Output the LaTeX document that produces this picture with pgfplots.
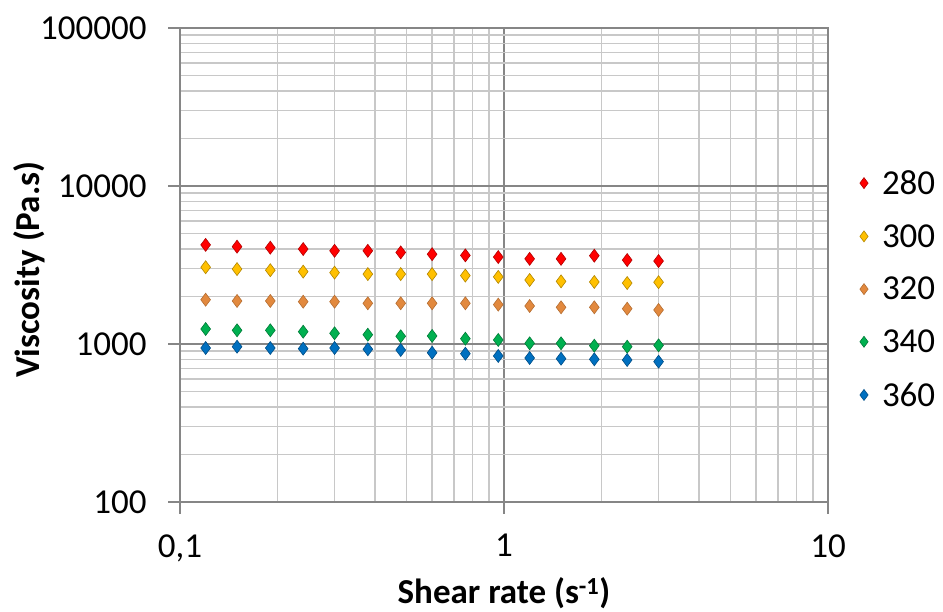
\documentclass[border=0pt]{standalone}
\usepackage{pgfplots}
\usepackage{pgfplotstable}
\pgfplotsset{compat=1.18}
\usepackage{fontspec}
\setmainfont{Carlito}

\definecolor{c280}{RGB}{255,0,0}
\definecolor{c300}{RGB}{255,192,0}
\definecolor{c320}{RGB}{226,137,62}
\definecolor{c340}{RGB}{0,176,80}
\definecolor{c360}{RGB}{0,112,192}
\definecolor{majgrid}{RGB}{134,134,134}
\definecolor{mingrid}{RGB}{200,200,200}

% viscosity (Pa.s) against shear rate (1/s) at five temperatures
\pgfplotstableread{
rate  T280 T300 T320 T340 T360
0.12  4240 3060 1907 1244 943
0.15  4130 2980 1872 1221 961
0.19  4070 2930 1872 1221 943
0.24  3990 2870 1852 1196 934
0.30  3890 2830 1852 1169 943
0.38  3890 2770 1810 1145 926
0.48  3800 2770 1810 1119 916
0.60  3700 2770 1810 1124 881
0.76  3640 2710 1810 1080 868
0.96  3550 2660 1774 1060 840
1.20  3460 2540 1740 1010 815
1.50  3460 2490 1707 1010 807
1.90  3620 2470 1707 975 800
2.40  3400 2430 1673 961 792
3.00  3350 2460 1642 981 773
}\visc

\begin{document}
\begin{tikzpicture}
\begin{loglogaxis}[
  scale only axis, width=648pt, height=474pt,
  xmin=0.1, xmax=10, ymin=100, ymax=100000,
  xtick={0.1,1,10}, xticklabels={{0,1},1,10},
  ytick={100,1000,10000,100000}, yticklabels={100,1000,10000,100000},
  grid=both,
  major grid style={majgrid, line width=1.5pt},
  minor grid style={mingrid, line width=1.5pt},
  axis line style={majgrid, line width=1.5pt},
  tick pos=left, tick align=outside,
  major tick length=12pt, minor tick length=0pt,
  tick style={majgrid, line width=1.5pt},
  ticklabel style={font=\fontsize{35}{42}\selectfont},
  yticklabel style={xshift=-18pt},
  xticklabel style={yshift=-17pt},
  xlabel={\textbf{Shear rate (s\textsuperscript{-1})}},
  ylabel={\textbf{Viscosity (Pa.s)}},
  label style={font=\fontsize{35}{42}\selectfont},
  xlabel style={at={(axis description cs:0.5,-0.192)}, anchor=center},
  ylabel style={at={(axis description cs:-0.232,0.49)}, anchor=center, rotate=0},
  legend style={at={(axis description cs:1.0,0.4494)}, anchor=west, xshift=30pt,
    draw=none, fill=none, inner sep=0pt, outer sep=0pt,
    nodes={inner sep=0pt},
    font=\fontsize{35}{42}\selectfont, row sep=28.5pt},
  legend cell align=left,
  legend image code/.code={%
    \path[draw=none] (-6pt,0pt) -- (18pt,0pt);
    \draw[#1, mark size=5.5pt] plot coordinates {(0pt,0pt)};},
  every axis plot/.append style={only marks, mark=diamond*, mark size=6.5pt},
]
\addplot[c280, mark options={fill=c280, draw=c280!70!black, line width=0.6pt}] table[x=rate, y=T280] {\visc};
\addlegendentry{280}
\addplot[c300, mark options={fill=c300, draw=c300!70!black, line width=0.6pt}] table[x=rate, y=T300] {\visc};
\addlegendentry{300}
\addplot[c320, mark options={fill=c320, draw=c320!80!black, line width=0.6pt}] table[x=rate, y=T320] {\visc};
\addlegendentry{320}
\addplot[c340, mark options={fill=c340, draw=c340!70!black, line width=0.6pt}] table[x=rate, y=T340] {\visc};
\addlegendentry{340}
\addplot[c360, mark options={fill=c360, draw=c360!70!black, line width=0.6pt}] table[x=rate, y=T360] {\visc};
\addlegendentry{360}
\end{loglogaxis}
\pgfresetboundingbox
\path[use as bounding box] (-180pt,-110pt) rectangle (763pt,502pt);
\end{tikzpicture}
\end{document}
